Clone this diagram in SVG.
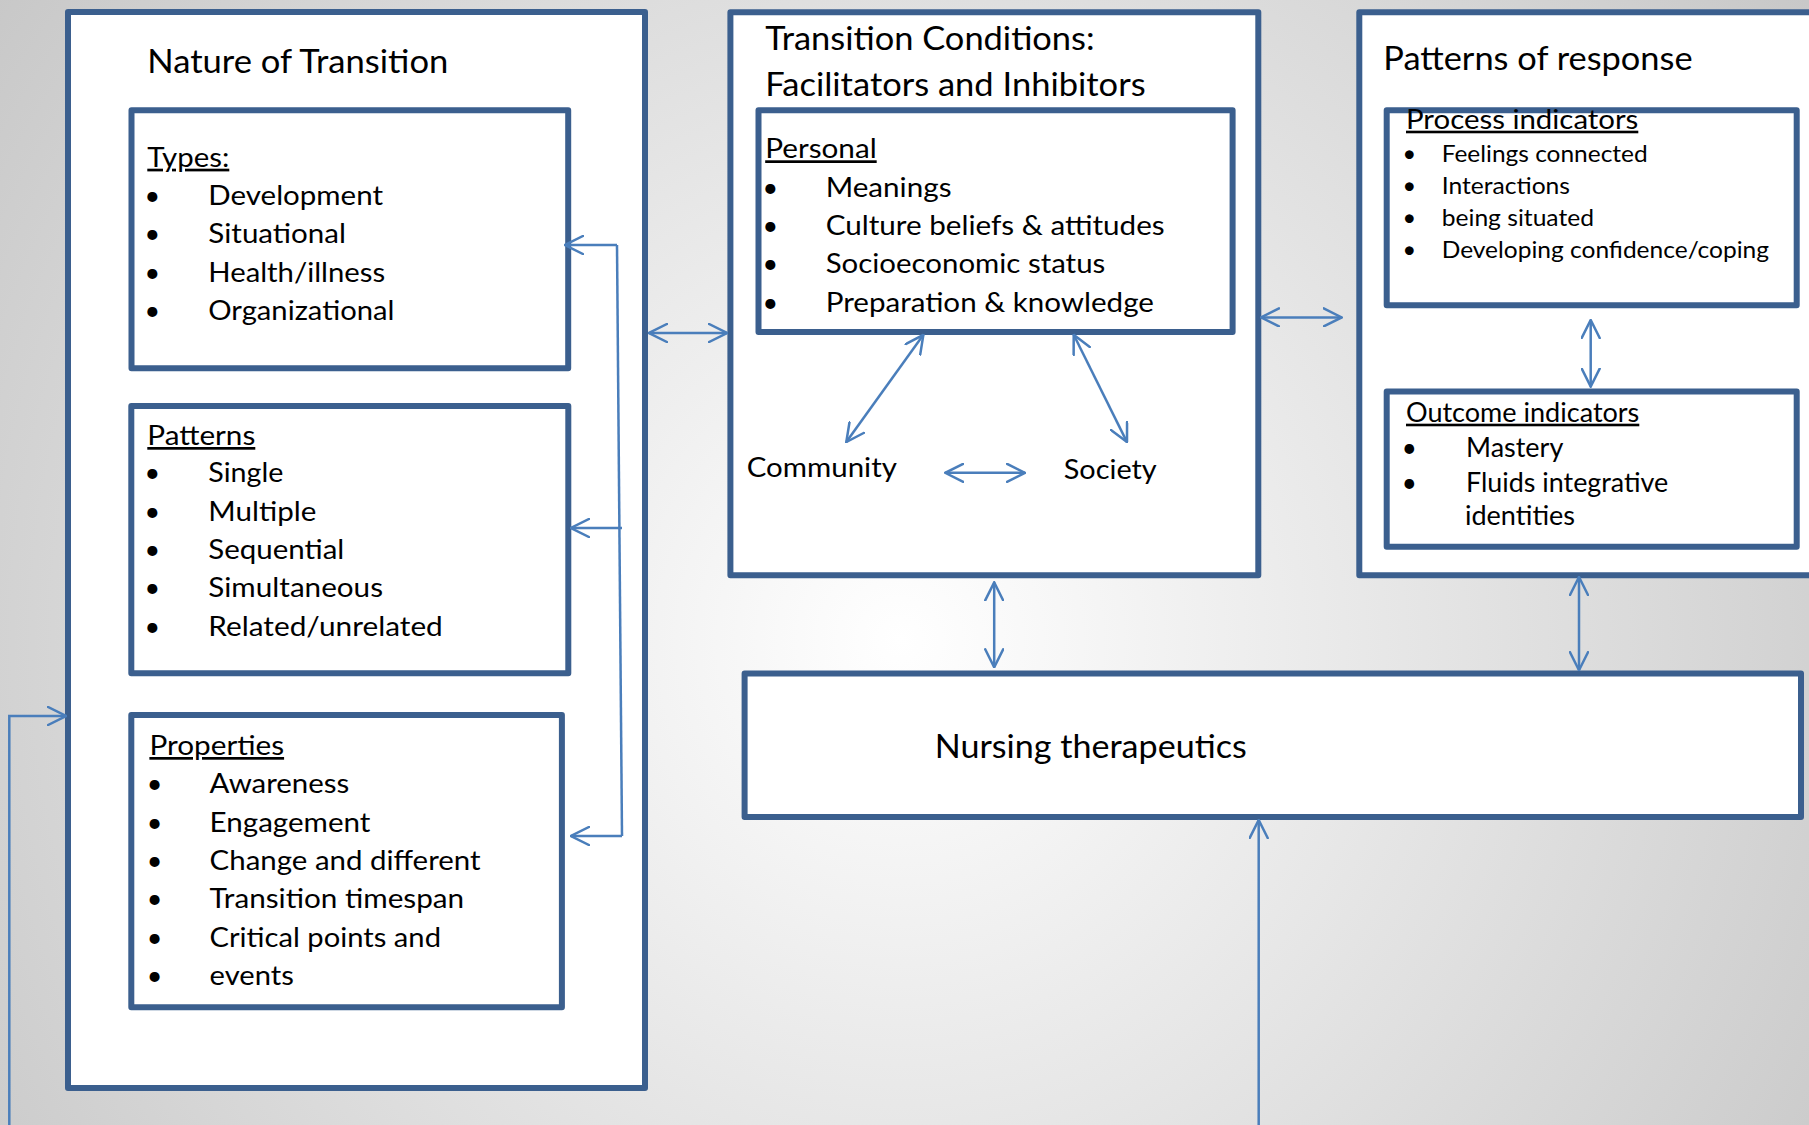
<svg xmlns="http://www.w3.org/2000/svg" width="1809" height="1125" viewBox="0 0 1809 1125">
<defs>
<radialGradient id="bg" gradientUnits="userSpaceOnUse" cx="900" cy="640" r="1150">
<stop offset="0" stop-color="#ffffff"/>
<stop offset="1" stop-color="#c6c6c6"/>
</radialGradient>
<marker id="ah" viewBox="0 0 20 20" refX="19" refY="10" markerWidth="20" markerHeight="20" markerUnits="userSpaceOnUse" orient="auto-start-reverse">
<path d="M1,1 L19,10 L1,19" fill="none" stroke="#4a7ebb" stroke-width="2.5" stroke-linecap="round"/>
</marker>
<style>
.box{fill:#ffffff;stroke:#3b5f8e;stroke-width:6;stroke-linejoin:round}
.t{font-family:Lato,"Open Sans","Noto Sans",sans-serif;fill:#000000}
.title{font-size:32px}
.li{font-size:27px}
.sm{font-size:23.5px}
.hd{font-size:26px}
.u{text-decoration:underline}
.b{text-anchor:middle}
.c{fill:none;stroke:#4a7ebb;stroke-width:2.5}
.ce{marker-end:url(#ah)}
.cd{marker-start:url(#ah);marker-end:url(#ah)}
</style>
</defs>
<rect x="0" y="0" width="1809" height="1125" fill="url(#bg)"/>

<g id="nature-of-transition">
<rect class="box" x="68" y="12" width="577" height="1076"/>
<text class="t title" x="147.3" y="73.3" textLength="301" lengthAdjust="spacingAndGlyphs">Nature of Transition</text>
</g>

<g id="types">
<rect class="box" x="131.5" y="110.3" width="436.7" height="258"/>
<text class="t li u" x="147.3" y="166.7" textLength="82" lengthAdjust="spacingAndGlyphs">Types:</text>
<text class="t li b" x="152.4" y="205">•</text>
<text class="t li b" x="152.4" y="243.3">•</text>
<text class="t li b" x="152.4" y="281.7">•</text>
<text class="t li b" x="152.4" y="320">•</text>
<text class="t li" x="208.3" y="205" textLength="174.7" lengthAdjust="spacingAndGlyphs">Development</text>
<text class="t li" x="208.3" y="243.3" textLength="137.7" lengthAdjust="spacingAndGlyphs">Situational</text>
<text class="t li" x="208.3" y="281.7" textLength="176.8" lengthAdjust="spacingAndGlyphs">Health/illness</text>
<text class="t li" x="208.3" y="320" textLength="186.1" lengthAdjust="spacingAndGlyphs">Organizational</text>
</g>

<g id="patterns">
<rect class="box" x="131.3" y="406" width="437" height="267.3"/>
<text class="t li u" x="147.3" y="445" textLength="108" lengthAdjust="spacingAndGlyphs">Patterns</text>
<text class="t li b" x="152.4" y="481.7">•</text>
<text class="t li b" x="152.4" y="520.7">•</text>
<text class="t li b" x="152.4" y="559.3">•</text>
<text class="t li b" x="152.4" y="597.3">•</text>
<text class="t li b" x="152.4" y="636">•</text>
<text class="t li" x="208.3" y="481.7" textLength="75" lengthAdjust="spacingAndGlyphs">Single</text>
<text class="t li" x="208.3" y="520.7" textLength="108" lengthAdjust="spacingAndGlyphs">Multiple</text>
<text class="t li" x="208.3" y="559.3" textLength="136" lengthAdjust="spacingAndGlyphs">Sequential</text>
<text class="t li" x="208.3" y="597.3" textLength="174.7" lengthAdjust="spacingAndGlyphs">Simultaneous</text>
<text class="t li" x="208.3" y="636" textLength="234.5" lengthAdjust="spacingAndGlyphs">Related/unrelated</text>
</g>

<g id="properties">
<rect class="box" x="131.3" y="715" width="430.6" height="292.3"/>
<text class="t li u" x="149.4" y="755" textLength="134.7" lengthAdjust="spacingAndGlyphs">Properties</text>
<text class="t li b" x="154.5" y="793.3">•</text>
<text class="t li b" x="154.5" y="831.7">•</text>
<text class="t li b" x="154.5" y="870">•</text>
<text class="t li b" x="154.5" y="908.3">•</text>
<text class="t li b" x="154.5" y="946.7">•</text>
<text class="t li b" x="154.5" y="985">•</text>
<text class="t li" x="209.6" y="793.3" textLength="139.7" lengthAdjust="spacingAndGlyphs">Awareness</text>
<text class="t li" x="209.6" y="831.7" textLength="160.8" lengthAdjust="spacingAndGlyphs">Engagement</text>
<text class="t li" x="209.6" y="870" textLength="271" lengthAdjust="spacingAndGlyphs">Change and different</text>
<text class="t li" x="209.6" y="908.3" textLength="254.6" lengthAdjust="spacingAndGlyphs">Transition timespan</text>
<text class="t li" x="209.6" y="946.7" textLength="231.4" lengthAdjust="spacingAndGlyphs">Critical points and</text>
<text class="t li" x="209.6" y="985" textLength="84.2" lengthAdjust="spacingAndGlyphs">events</text>
</g>

<g id="transition-conditions">
<rect class="box" x="730.4" y="12.2" width="527.9" height="563.1"/>
<text class="t title" x="765.2" y="49.9" textLength="329.4" lengthAdjust="spacingAndGlyphs">Transition Conditions:</text>
<text class="t title" x="765.2" y="96.2" textLength="380.4" lengthAdjust="spacingAndGlyphs">Facilitators and Inhibitors</text>
</g>

<g id="personal">
<rect class="box" x="758.5" y="110.2" width="474.1" height="221.7"/>
<text class="t li u" x="765.2" y="158.3" textLength="111.5" lengthAdjust="spacingAndGlyphs">Personal</text>
<text class="t li b" x="770.4" y="196.8">•</text>
<text class="t li b" x="770.4" y="234.9">•</text>
<text class="t li b" x="770.4" y="273">•</text>
<text class="t li b" x="770.4" y="311.9">•</text>
<text class="t li" x="825.7" y="196.8" textLength="125.8" lengthAdjust="spacingAndGlyphs">Meanings</text>
<text class="t li" x="825.7" y="234.9" textLength="338.9" lengthAdjust="spacingAndGlyphs">Culture beliefs &amp; attitudes</text>
<text class="t li" x="825.7" y="273" textLength="279.6" lengthAdjust="spacingAndGlyphs">Socioeconomic status</text>
<text class="t li" x="825.7" y="311.9" textLength="328.2" lengthAdjust="spacingAndGlyphs">Preparation &amp; knowledge</text>
</g>

<g id="community">
<text class="t li" x="746.7" y="477.2" textLength="150.2" lengthAdjust="spacingAndGlyphs">Community</text>
</g>

<g id="society">
<text class="t li" x="1063.8" y="479.1" textLength="92.9" lengthAdjust="spacingAndGlyphs">Society</text>
</g>

<g id="patterns-of-response">
<rect class="box" x="1359.3" y="12.2" width="480" height="563.1"/>
<text class="t title" x="1383.3" y="70.3" textLength="309.3" lengthAdjust="spacingAndGlyphs">Patterns of response</text>
</g>

<g id="process-indicators">
<rect class="box" x="1386.7" y="110.2" width="410" height="195"/>
<text class="t hd u" x="1406" y="128.7" textLength="232.3" lengthAdjust="spacingAndGlyphs">Process indicators</text>
<text class="t sm b" x="1409.3" y="162">•</text>
<text class="t sm b" x="1409.3" y="193.5">•</text>
<text class="t sm b" x="1409.3" y="225.7">•</text>
<text class="t sm b" x="1409.3" y="258.2">•</text>
<text class="t sm" x="1441.7" y="162" textLength="206" lengthAdjust="spacingAndGlyphs">Feelings connected</text>
<text class="t sm" x="1441.7" y="193.5" textLength="128.3" lengthAdjust="spacingAndGlyphs">Interactions</text>
<text class="t sm" x="1441.7" y="225.7" textLength="152.3" lengthAdjust="spacingAndGlyphs">being situated</text>
<text class="t sm" x="1441.7" y="258.2" textLength="327.3" lengthAdjust="spacingAndGlyphs">Developing confidence/coping</text>
</g>

<g id="outcome-indicators">
<rect class="box" x="1386.7" y="391.4" width="410" height="155.4"/>
<text class="t hd u" x="1406" y="421.7" textLength="233.3" lengthAdjust="spacingAndGlyphs">Outcome indicators</text>
<text class="t hd b" x="1409.3" y="456.9">•</text>
<text class="t hd b" x="1409.3" y="492">•</text>
<text class="t hd" x="1466" y="456.9" textLength="97.3" lengthAdjust="spacingAndGlyphs">Mastery</text>
<text class="t hd" x="1466" y="492" textLength="202.3" lengthAdjust="spacingAndGlyphs">Fluids integrative</text>
<text class="t hd" x="1465" y="525.3" textLength="110" lengthAdjust="spacingAndGlyphs">identities</text>
</g>

<g id="nursing-therapeutics">
<rect class="box" x="744.6" y="673.4" width="1056.4" height="143.7"/>
<text class="t title" x="934.8" y="757.6" textLength="311.9" lengthAdjust="spacingAndGlyphs">Nursing therapeutics</text>
</g>

<g id="connectors">
<path class="c" d="M617,245 L622,836"/>
<path class="c ce" d="M617,245 L565,245"/>
<path class="c ce" d="M622,528 L571,528"/>
<path class="c ce" d="M622,836 L571,836"/>
<path class="c ce" d="M9.3,1125 L9.3,716 L66,716"/>
<path class="c cd" d="M649,333 L727,333"/>
<path class="c cd" d="M1261,317.4 L1341.7,317.4"/>
<path class="c cd" d="M923.4,334.8 L846.3,442.1"/>
<path class="c cd" d="M1073.7,334.8 L1127,442.1"/>
<path class="c cd" d="M945.2,472.8 L1025,472.8"/>
<path class="c cd" d="M1590.7,320 L1590.7,386.6"/>
<path class="c cd" d="M994.2,582.4 L994.2,667.3"/>
<path class="c cd" d="M1579,577 L1579,670.2"/>
<path class="c ce" d="M1258.7,1125 L1258.7,820"/>
</g>
</svg>
